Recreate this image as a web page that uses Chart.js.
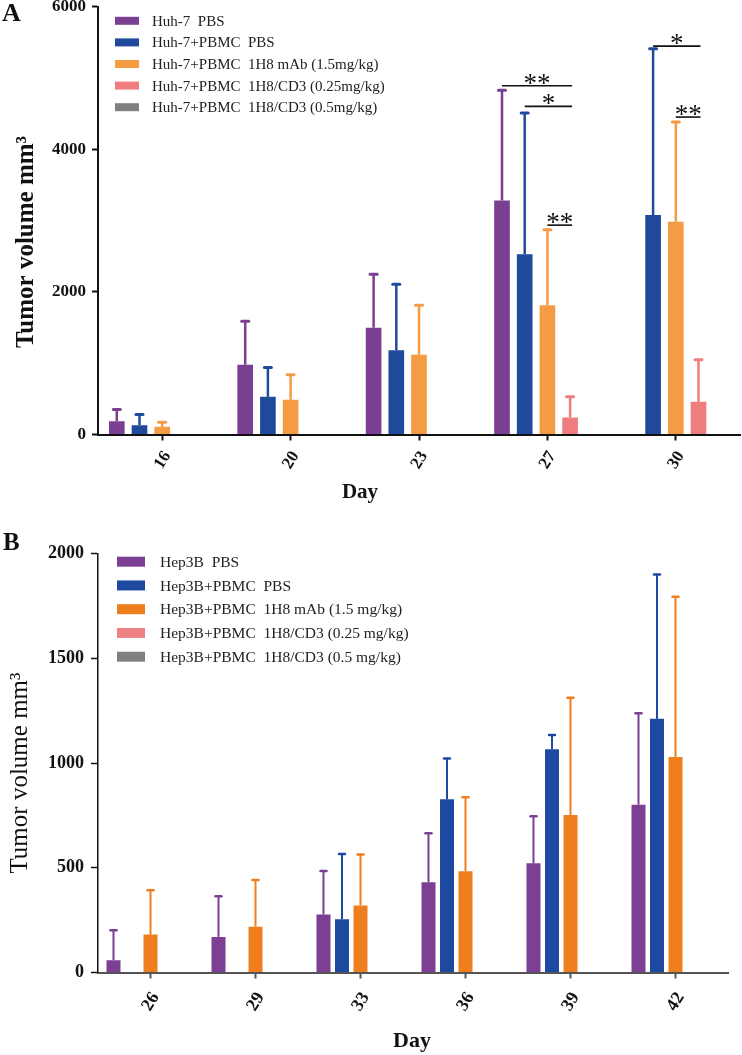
<!DOCTYPE html>
<html><head><meta charset="utf-8">
<script src="https://cdn.jsdelivr.net/npm/chart.js@4.4.1/dist/chart.umd.min.js"></script>
<style>
html,body{margin:0;padding:0;background:#fff;}
#wrap{position:relative;width:742px;height:1055px;overflow:hidden;}
canvas{display:block;position:absolute;left:0;}
#cA{top:0;} #cB{top:515px;}
</style></head><body>
<div id="wrap"><canvas id="cA" width="742" height="515"></canvas><canvas id="cB" width="742" height="540"></canvas></div>
<script>
// ---------- Panel A (Huh-7) ----------
const daysA = ['16', '20', '23', '27', '30'];
const seriesNamesA = ['Huh-7  PBS', 'Huh-7+PBMC  PBS', 'Huh-7+PBMC  1H8 mAb (1.5mg/kg)', 'Huh-7+PBMC  1H8/CD3 (0.25mg/kg)', 'Huh-7+PBMC  1H8/CD3 (0.5mg/kg)'];
const huhPBS        = [187, 978, 1497, 3281, null];
const huhPBS_sd     = [164, 609, 750, 1545, null];
const huhPBMC       = [131, 528, 1180, 2528, 3076];
const huhPBMC_sd    = [150, 413, 927, 1980, 2331];
const huhMab        = [107, 486, 1118, 1812, 2982];
const huhMab_sd     = [66, 351, 694, 1057, 1400];
const huhCD3low     = [null, null, null, 239, 458];
const huhCD3low_sd  = [null, null, null, 289, 590];
const huhCD3high    = [null, null, null, null, null];
const huhCD3high_sd = [null, null, null, null, null];
const yTicksA = [0, 2000, 4000, 6000];
// significance brackets: day, from series, to series, height (mm3), mark
const sigA = [
  {day: '27', from: 0, to: 3, y: 4890, mark: '**'},
  {day: '27', from: 1, to: 3, y: 4600, mark: '*'},
  {day: '27', from: 2, to: 3, y: 2935, mark: '**'},
  {day: '30', from: 1, to: 3, y: 5445, mark: '*'},
  {day: '30', from: 2, to: 3, y: 4450, mark: '**'}
];

// ---------- Panel B (Hep3B) ----------
const daysB = ['26', '29', '33', '36', '39', '42'];
const seriesNamesB = ['Hep3B  PBS', 'Hep3B+PBMC  PBS', 'Hep3B+PBMC  1H8 mAb (1.5 mg/kg)', 'Hep3B+PBMC  1H8/CD3 (0.25 mg/kg)', 'Hep3B+PBMC  1H8/CD3 (0.5 mg/kg)'];
const hepPBS        = [59, 170, 277, 431, 521, 801];
const hepPBS_sd     = [143, 194, 207, 234, 225, 437];
const hepPBMC       = [null, null, 254, 827, 1066, 1211];
const hepPBMC_sd    = [null, null, 312, 194, 68, 689];
const hepMab        = [181, 218, 320, 483, 752, 1029];
const hepMab_sd     = [212, 223, 243, 354, 560, 764];
const hepCD3low     = [null, null, null, null, null, null];
const hepCD3low_sd  = [null, null, null, null, null, null];
const hepCD3high    = [null, null, null, null, null, null];
const hepCD3high_sd = [null, null, null, null, null, null];
const yTicksB = [0, 500, 1000, 1500, 2000];

const colorsA = ['#7B3F91', '#1F4A9C', '#F49C44', '#EF7D7D', '#808080'];
const colorsB = ['#7D3F93', '#1E49A0', '#EF7E1F', '#EF8083', '#808080'];
const SERIF = "'Liberation Serif', 'Times New Roman', serif";

// ---------- plugins ----------
const errorBars = {
  id: 'errorBars',
  afterDatasetsDraw(chart, args, opts) {
    const ctx = chart.ctx, ys = chart.scales.y;
    chart.data.datasets.forEach((ds, di) => {
      const meta = chart.getDatasetMeta(di);
      if (!ds.sd) return;
      meta.data.forEach((bar, i) => {
        const v = ds.data[i], e = ds.sd[i];
        if (v == null || e == null) return;
        const yTop = ys.getPixelForValue(v + e);
        const yBar = ys.getPixelForValue(v);
        ctx.save();
        ctx.strokeStyle = ds.backgroundColor;
        ctx.lineWidth = opts.lineWidth;
        ctx.beginPath(); ctx.moveTo(bar.x, yBar); ctx.lineTo(bar.x, yTop); ctx.stroke();
        ctx.lineWidth = opts.capWidth;
        ctx.lineCap = 'round';
        ctx.beginPath(); ctx.moveTo(bar.x - opts.capHalf, yTop); ctx.lineTo(bar.x + opts.capHalf, yTop); ctx.stroke();
        ctx.restore();
      });
    });
  }
};

const sigMarks = {
  id: 'sigMarks',
  afterDatasetsDraw(chart, args, opts) {
    if (!opts.items) return;
    const ctx = chart.ctx, ys = chart.scales.y;
    const labels = chart.data.labels;
    opts.items.forEach(a => {
      const ci = labels.indexOf(a.day);
      const x1 = chart.getDatasetMeta(a.from).data[ci].x;
      const x2 = chart.getDatasetMeta(a.to).data[ci].x + 2;
      const y = ys.getPixelForValue(a.y);
      ctx.save();
      ctx.strokeStyle = '#111'; ctx.lineWidth = 1.6;
      ctx.beginPath(); ctx.moveTo(x1, y); ctx.lineTo(x2, y); ctx.stroke();
      ctx.fillStyle = '#111';
      ctx.font = opts.font;
      ctx.textAlign = 'center'; ctx.textBaseline = 'alphabetic';
      ctx.fillText(a.mark, (x1 + x2) / 2, y + opts.dy);
      ctx.restore();
    });
  }
};

const boxLegend = {
  id: 'boxLegend',
  afterDraw(chart, args, o) {
    const ctx = chart.ctx;
    ctx.save();
    ctx.font = o.font; ctx.textBaseline = 'middle'; ctx.textAlign = 'left';
    chart.data.datasets.forEach((ds, i) => {
      const cy = o.y + i * o.rowH;
      ctx.fillStyle = ds.backgroundColor;
      ctx.fillRect(o.x, cy - o.boxH / 2, o.boxW, o.boxH);
      ctx.fillStyle = o.color;
      ctx.fillText(ds.label, o.textX, cy + 1);
    });
    ctx.restore();
  }
};

const freeText = {
  id: 'freeText',
  afterDraw(chart, args, o) {
    const ctx = chart.ctx;
    (o.items || []).forEach(t => {
      ctx.save();
      ctx.translate(t.x, t.y);
      if (t.rotate) ctx.rotate(t.rotate);
      ctx.font = t.font; ctx.fillStyle = t.color || '#111';
      ctx.textAlign = t.align || 'center'; ctx.textBaseline = t.baseline || 'middle';
      ctx.fillText(t.text, 0, 0);
      ctx.restore();
    });
  }
};

function makeDatasets(names, values, sds, colors) {
  return names.map((n, i) => ({
    label: n, data: values[i], sd: sds[i],
    backgroundColor: colors[i], borderWidth: 0
  }));
}

function makeChart(canvas, cfg) {
  return new Chart(canvas, {
    type: 'bar',
    data: {
      labels: cfg.days,
      datasets: makeDatasets(cfg.names, cfg.values, cfg.sds, cfg.colors).map(d => Object.assign(d, {
        categoryPercentage: cfg.catPct, barPercentage: cfg.barPct
      }))
    },
    options: {
      responsive: false, animation: false, devicePixelRatio: 1,
      layout: {padding: cfg.padding},
      plugins: {
        legend: {display: false}, tooltip: {enabled: false},
        errorBars: cfg.err,
        sigMarks: {items: cfg.sig, font: '27px ' + SERIF, dy: 6},
        boxLegend: cfg.legend,
        freeText: {items: cfg.texts}
      },
      scales: {
        x: {
          grid: {display: true, drawOnChartArea: false, offset: false, tickLength: 6, tickWidth: 2, tickColor: cfg.xAxisColor},
          border: {display: true, color: cfg.xAxisColor, width: 2},
          ticks: {autoSkip: false, minRotation: 58, maxRotation: 58, color: '#111', padding: cfg.xTickPad, labelOffset: 5,
                  font: {family: SERIF, weight: 'bold', size: cfg.xTickSize}},
          afterFit(s) { s.height = cfg.xHeight; s.paddingLeft = 0; s.paddingRight = 0; }
        },
        y: {
          min: cfg.yTicks[0], max: cfg.yTicks[cfg.yTicks.length - 1],
          afterBuildTicks(s) { s.ticks = cfg.yTicks.map(v => ({value: v})); },
          grid: {display: true, drawOnChartArea: false, tickLength: cfg.yTickLen, tickWidth: cfg.yTickWidth, tickColor: '#111'},
          border: {display: true, color: '#111', width: cfg.yAxisWidth},
          ticks: {color: '#111', padding: cfg.yTickPad, font: {family: SERIF, weight: 'bold', size: cfg.yTickSize},
                  callback: v => String(v)},
          afterFit(s) { s.width = 98; s.paddingTop = 0; s.paddingBottom = 0; }
        }
      }
    },
    plugins: [errorBars, sigMarks, boxLegend, freeText]
  });
}

makeChart(document.getElementById('cA'), {
  days: daysA, names: seriesNamesA, colors: colorsA,
  values: [huhPBS, huhPBMC, huhMab, huhCD3low, huhCD3high],
  sds: [huhPBS_sd, huhPBMC_sd, huhMab_sd, huhCD3low_sd, huhCD3high_sd],
  yTicks: yTicksA, catPct: 0.884, barPct: 0.69,
  padding: {top: 6.5, right: 2, bottom: 0, left: 0},
  xHeight: 80.5, xTickPad: 7, xTickSize: 17, xAxisColor: '#111',
  yTickLen: 6, yTickWidth: 2, yAxisWidth: 2, yTickPad: 6, yTickSize: 17,
  err: {lineWidth: 2.5, capWidth: 3, capHalf: 3.5},
  sig: sigA,
  legend: {x: 115, y: 20.8, rowH: 21.6, boxW: 24, boxH: 8, textX: 152, font: '15px ' + SERIF, color: '#222'},
  texts: [
    {text: 'A', x: 2, y: 21, font: 'bold 26px ' + SERIF, align: 'left', baseline: 'alphabetic'},
    {text: 'Tumor volume mm³', x: 27, y: 242, rotate: -Math.PI / 2, font: 'bold 25px ' + SERIF},
    {text: 'Day', x: 360, y: 493, font: 'bold 21px ' + SERIF}
  ]
});

makeChart(document.getElementById('cB'), {
  days: daysB, names: seriesNamesB, colors: colorsB,
  values: [hepPBS, hepPBMC, hepMab, hepCD3low, hepCD3high],
  sds: [hepPBS_sd, hepPBMC_sd, hepMab_sd, hepCD3low_sd, hepCD3high_sd],
  yTicks: yTicksB, catPct: 0.881, barPct: 0.757,
  padding: {top: 38.5, right: 14, bottom: 0, left: 0},
  xHeight: 82.5, xTickPad: 10, xTickSize: 18, xAxisColor: '#555',
  yTickLen: 7, yTickWidth: 1.5, yAxisWidth: 1.5, yTickPad: 7, yTickSize: 18,
  err: {lineWidth: 2, capWidth: 2.5, capHalf: 3},
  sig: [],
  legend: {x: 117, y: 46.7, rowH: 23.75, boxW: 28, boxH: 10, textX: 160, font: '15.5px ' + SERIF, color: '#222'},
  texts: [
    {text: 'B', x: 3, y: 35, font: 'bold 25px ' + SERIF, align: 'left', baseline: 'alphabetic'},
    {text: 'Tumor volume mm³', x: 20, y: 258, rotate: -Math.PI / 2, font: '25px ' + SERIF},
    {text: 'Day', x: 412, y: 526, font: 'bold 22px ' + SERIF}
  ]
});
</script>
</body></html>
